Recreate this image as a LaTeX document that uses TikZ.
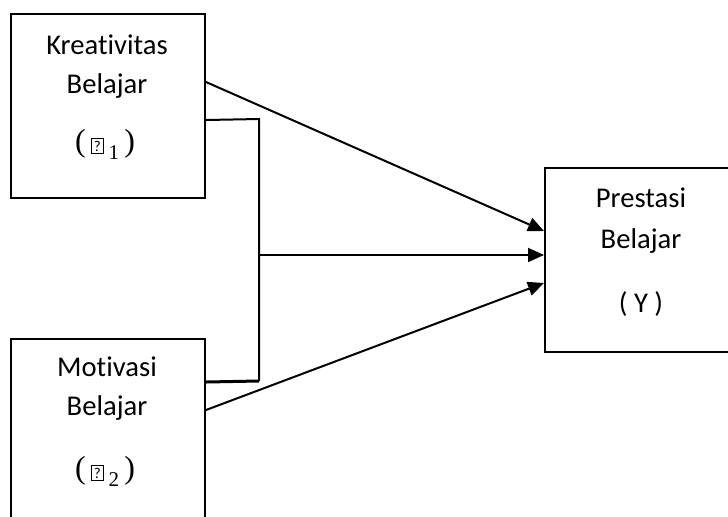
\documentclass[tikz,border=0pt]{standalone}
\usepackage{fontspec}
\setmainfont{Carlito}[Ligatures=CommonOff]
\newfontfamily\serif{Liberation Serif}
\usetikzlibrary{arrows.meta}

\newcommand{\kosong}{\mbox{\setlength{\fboxsep}{1pt}\setlength{\fboxrule}{0.45pt}\fbox{\fontsize{7.5}{7.5}\selectfont ?}}}
\newcommand{\kurung}[1]{{\serif\fontsize{16}{16}\selectfont #1}}
\newcommand{\varx}[1]{\kurung{(\,}\kosong\,\raisebox{-4pt}{\serif\fontsize{10.5}{10.5}\selectfont #1}\kurung{\,)}}

\tikzset{
  kotak/.style={draw,line width=1pt,anchor=north west,inner sep=0pt,
    minimum width=97pt,minimum height=92pt},
  teks/.style={anchor=base,inner sep=0pt,font=\fontsize{14.3}{17}\selectfont},
  panah/.style={line width=1pt,-{Triangle[length=8pt,width=7pt]}}
}

\begin{document}
\begin{tikzpicture}[x=0.5pt,y=-0.5pt]
        \useasboundingbox (0,0) rectangle (728,516);
        \clip (0,0) rectangle (728,516);

        % 定义方框
        \node[kotak] (kreat) at (10,13) {};
        \node[kotak] (motiv) at (10,338) {};
        \node[kotak] (presta) at (544,167) {};

        % 文字
        \node[teks] (k1) at (107,54) {Kreativitas};
        \node[teks] (k2) at (107,93) {Belajar};
        \node[teks] (k3) at (105,151) {\varx{1}};
        \node[teks] (m1) at (107,376) {Motivasi};
        \node[teks] (m2) at (107,415) {Belajar};
        \node[teks] (m3) at (105,478) {\varx{2}};
        \node[teks] (p1) at (641,207) {Prestasi};
        \node[teks] (p2) at (641,248) {Belajar};
        \node[teks] (p3) at (641,312) {( Y )};

        % 定义坐标
        \coordinate (atas) at (259,119);
        \coordinate (bawah) at (259,381);
        \coordinate (tengah) at (259,255);

        % 绘制连线
        \draw[line width=1pt] ([yshift=-7pt]kreat.east) -- (atas) -- (bawah);
        \draw[line width=1.5pt] (bawah) -- ([yshift=24.5pt]motiv.east);
        \draw[panah] ([yshift=12pt]kreat.east) -- ([yshift=14.5pt]presta.west);
        \draw[panah] (tengah) -- (tengah -| presta.west);
        \draw[panah] ([yshift=10.5pt]motiv.east) -- ([yshift=-11.5pt]presta.west);
    \end{tikzpicture}
\end{document}
